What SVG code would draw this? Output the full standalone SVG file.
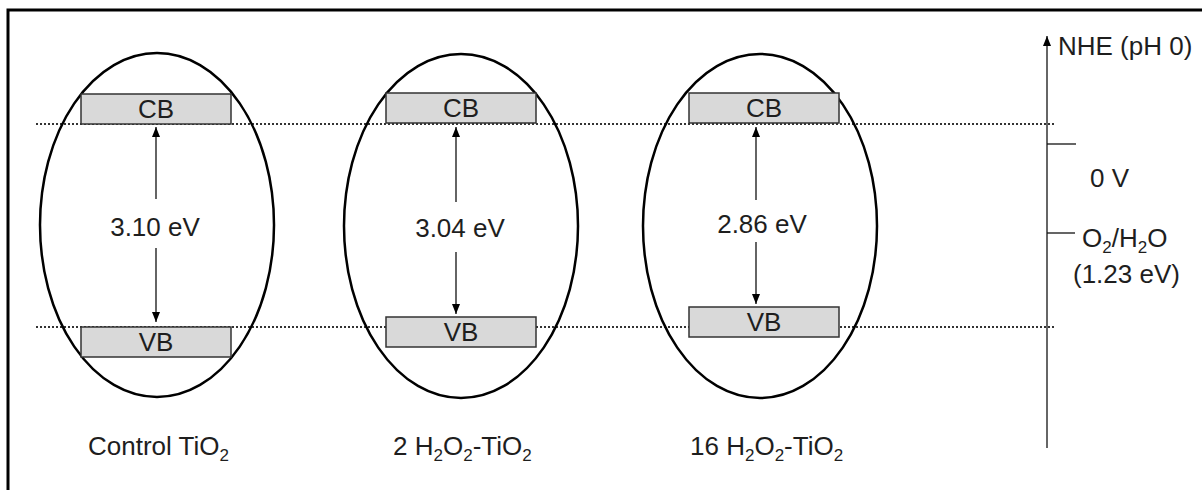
<svg xmlns="http://www.w3.org/2000/svg" width="1202" height="490" viewBox="0 0 1202 490">
<style>
text{font-family:"Liberation Sans",Arial,sans-serif;font-size:26px;fill:#1e1e1e}
.sub{font-size:17px}
.ell{fill:none;stroke:#000;stroke-width:2.5}
.band{fill:#d9d9d9;stroke:#333;stroke-width:1.5}
.dot{stroke:#333;stroke-width:2;stroke-dasharray:2 2;fill:none}
.arr{stroke:#111;stroke-width:1.3;fill:none}
</style>
<defs>
<marker id="ah" viewBox="0 0 10 8" refX="10" refY="4" markerWidth="10" markerHeight="8" markerUnits="userSpaceOnUse" orient="auto">
<path d="M0,0 L10,4 L0,8 z" fill="#000"/>
</marker>
</defs>
<rect width="1202" height="490" fill="#fff"/>
<rect x="8" y="10" width="1220" height="500" fill="none" stroke="#000" stroke-width="3"/>

<g id="levels">
<line class="dot" x1="36" y1="124" x2="1056" y2="124"/>
<line class="dot" x1="36" y1="327" x2="1056" y2="327"/>
</g>

<g id="control">
<ellipse class="ell" cx="157" cy="225" rx="117" ry="172"/>
<rect class="band" x="81" y="94" width="150" height="30"/>
<text x="156" y="118" text-anchor="middle">CB</text>
<rect class="band" x="81" y="327" width="150" height="30"/>
<text x="156" y="351" text-anchor="middle">VB</text>
<text x="155" y="236" text-anchor="middle">3.10 eV</text>
<text x="88" y="455">Control TiO<tspan class="sub" dy="6">2</tspan></text>
</g>

<g id="h2o2-2">
<ellipse class="ell" cx="461" cy="226" rx="117" ry="172"/>
<rect class="band" x="386" y="93" width="150" height="30"/>
<text x="461" y="117" text-anchor="middle">CB</text>
<rect class="band" x="386" y="317" width="150" height="30"/>
<text x="461" y="341" text-anchor="middle">VB</text>
<text x="460" y="237" text-anchor="middle">3.04 eV</text>
<text x="393" y="455">2 H<tspan class="sub" dy="6">2</tspan><tspan dy="-6">O</tspan><tspan class="sub" dy="6">2</tspan><tspan dy="-6">-TiO</tspan><tspan class="sub" dy="6">2</tspan></text>
</g>

<g id="h2o2-16">
<ellipse class="ell" cx="760" cy="226" rx="117" ry="172"/>
<rect class="band" x="689" y="93" width="150" height="30"/>
<text x="764" y="117" text-anchor="middle">CB</text>
<rect class="band" x="689" y="307" width="150" height="30"/>
<text x="764" y="331" text-anchor="middle">VB</text>
<text x="762" y="233" text-anchor="middle">2.86 eV</text>
<text x="690" y="455">16 H<tspan class="sub" dy="6">2</tspan><tspan dy="-6">O</tspan><tspan class="sub" dy="6">2</tspan><tspan dy="-6">-TiO</tspan><tspan class="sub" dy="6">2</tspan></text>
</g>

<g id="connectors">
<line class="arr" x1="156" y1="199" x2="156" y2="127" marker-end="url(#ah)"/>
<line class="arr" x1="156" y1="248" x2="156" y2="322" marker-end="url(#ah)"/>
<line class="arr" x1="456" y1="202" x2="456" y2="127" marker-end="url(#ah)"/>
<line class="arr" x1="456" y1="252" x2="456" y2="314" marker-end="url(#ah)"/>
<line class="arr" x1="756" y1="200" x2="756" y2="127" marker-end="url(#ah)"/>
<line class="arr" x1="756" y1="242" x2="756" y2="304" marker-end="url(#ah)"/>
</g>

<g id="axis">
<line x1="1047" y1="448" x2="1047" y2="36" stroke="#333" stroke-width="1.5" marker-end="url(#ah)"/>
<line x1="1047" y1="144" x2="1076" y2="144" stroke="#111" stroke-width="1.3"/>
<line x1="1047" y1="233" x2="1075" y2="233" stroke="#111" stroke-width="1.3"/>
<text x="1058" y="55">NHE (pH 0)</text>
<text x="1090" y="187">0 V</text>
<text x="1082" y="247">O<tspan class="sub" dy="6">2</tspan><tspan dy="-6">/H</tspan><tspan class="sub" dy="6">2</tspan><tspan dy="-6">O</tspan></text>
<text x="1073" y="283">(1.23 eV)</text>
</g>
</svg>
